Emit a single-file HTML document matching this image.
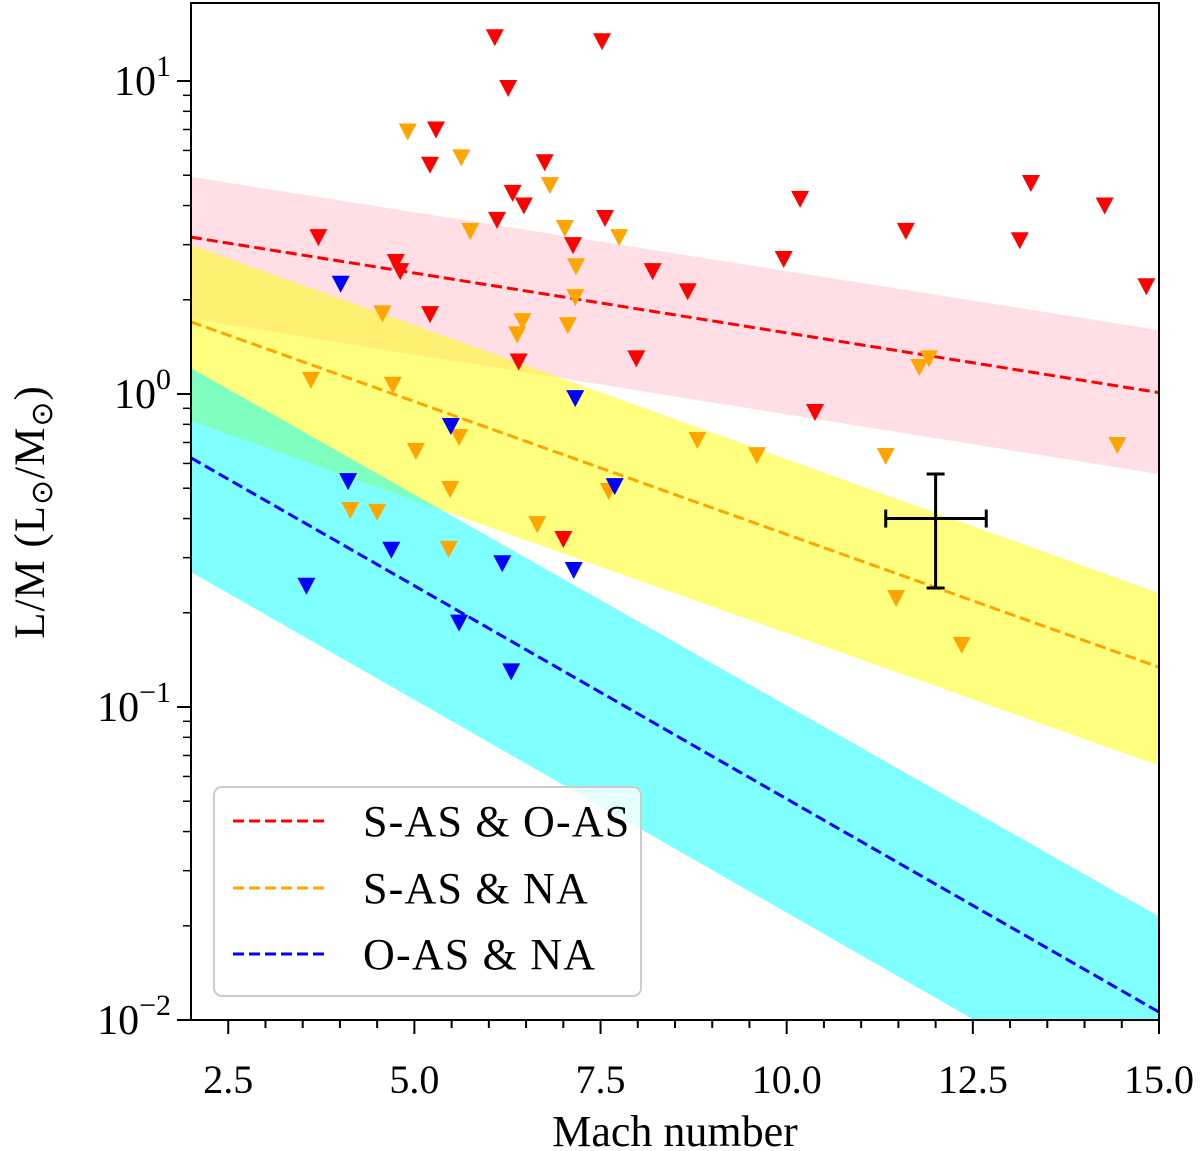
<!DOCTYPE html>
<html><head><meta charset="utf-8"><style>
html,body{margin:0;padding:0;background:#fff}
svg{display:block;font-family:"Liberation Serif",serif}
</style></head><body>
<svg id="chart" width="1200" height="1151" xmlns="http://www.w3.org/2000/svg"></svg>
<script>
const xTicks=[2.5,5.0,7.5,10.0,12.5,15.0];
const xTickLabels=["2.5","5.0","7.5","10.0","12.5","15.0"];
const yDecades=[-2,-1,0,1];
const redX=[6.08,7.52,6.26,5.29,5.21,6.75,3.71,4.75,4.81,6.32,6.11,6.47,7.56,7.13,8.20,8.67,5.21,6.40,7.98,9.96,10.18,11.60,13.13,13.28,14.27,14.83,10.38,7.0];
const redY=[13.8,13.4,9.5,7.0,5.4,5.5,3.17,2.64,2.47,4.39,3.6,4.0,3.65,2.99,2.47,2.13,1.80,1.27,1.30,2.70,4.2,3.32,3.10,4.72,4.0,2.21,0.876,0.344];
const orangeX=[4.91,5.63,6.82,5.75,7.02,7.75,7.17,7.16,4.57,6.45,6.38,7.06,3.61,4.71,11.91,11.78,5.02,5.60,5.48,4.50,4.14,5.46,6.65,7.61,8.80,9.60,11.33,14.44,11.47,12.35];
const orangeY=[6.9,5.7,4.65,3.32,3.39,3.17,2.56,2.04,1.81,1.71,1.55,1.66,1.11,1.07,1.30,1.22,0.658,0.729,0.497,0.42,0.426,0.32,0.384,0.49,0.713,0.638,0.634,0.687,0.223,0.158];
const blueX=[4.01,7.16,5.49,4.11,7.69,4.69,6.18,7.14,3.55,5.60,6.30];
const blueY=[2.25,0.97,0.79,0.527,0.508,0.318,0.288,0.274,0.244,0.186,0.130];
const redLine=[2,3.17,15,1.01];
const orangeLine=[2,1.70,15,0.134];
const blueLine=[2,0.625,15,0.0106];
const redBand=[4.94,1.6,1.74,0.555];
const orangeBand=[2.99,0.231,0.82,0.065];
const blueBand=[1.21,0.0214,0.27,0.0046];
const errPoint=[12.0,0.40];
const errX=[11.33,12.68];
const errY=[0.24,0.555];

const L=191,R=1159,T=3,B=1020;
const xs=v=>L+(v-2)/13*(R-L);
const ys=v=>394-Math.log10(v)*313;
const svg=document.getElementById('chart');
const NS='http://www.w3.org/2000/svg';
function mk(tag,attrs,parent){const e=document.createElementNS(NS,tag);for(const k in attrs)e.setAttribute(k,attrs[k]);(parent||svg).appendChild(e);return e;}
const defs=mk('defs',{});
const cp=mk('clipPath',{id:'clip'},defs);mk('rect',{x:L,y:T,width:R-L,height:B-T},cp);
const g=mk('g',{'clip-path':'url(#clip)'});


function band(b,color,name){
  const p=mk('polygon',{points:`${xs(2)},${ys(b[0])} ${xs(15)},${ys(b[1])} ${xs(15)},${ys(b[3])} ${xs(2)},${ys(b[2])}`,fill:color,'fill-opacity':0.5},g);
  
  
}
band(redBand,'#ffc0cb','band-s-as-o-as');
band(orangeBand,'#ffff00','band-s-as-na');
band(blueBand,'#00ffff','band-o-as-na');
function line(l,color,name){
  const e=mk('line',{x1:xs(l[0]),y1:ys(l[1]),x2:xs(l[2]),y2:ys(l[3]),stroke:color,'stroke-width':3,'stroke-dasharray':'11,5'},g);
  
  
}
line(redLine,'#ff0000','fit-line-s-as-o-as');
line(orangeLine,'#ffa500','fit-line-s-as-na');
line(blueLine,'#0000ff','fit-line-o-as-na');
function pts(X,Y,color,name){
  for(let i=0;i<X.length;i++){const cx=xs(X[i]),cy=ys(Y[i]);
    const p=mk('polygon',{points:`${cx-9},${cy-8} ${cx+9},${cy-8} ${cx},${cy+9}`,fill:color},g);
    
    }
}
pts(redX,redY,'#ff0000','upper-limit-red');
pts(orangeX,orangeY,'#ffa500','upper-limit-orange');
pts(blueX,blueY,'#0000ff','upper-limit-blue');
const eg=mk('g',{stroke:'#000','stroke-width':3},g);


mk('line',{x1:xs(errX[0]),x2:xs(errX[1]),y1:ys(errPoint[1]),y2:ys(errPoint[1])},eg);
mk('line',{x1:xs(errPoint[0]),x2:xs(errPoint[0]),y1:ys(errY[0]),y2:ys(errY[1])},eg);
mk('line',{x1:xs(errX[0]),x2:xs(errX[0]),y1:ys(errPoint[1])-9,y2:ys(errPoint[1])+9},eg);
mk('line',{x1:xs(errX[1]),x2:xs(errX[1]),y1:ys(errPoint[1])-9,y2:ys(errPoint[1])+9},eg);
mk('line',{x1:xs(errPoint[0])-9,x2:xs(errPoint[0])+9,y1:ys(errY[0]),y2:ys(errY[0])},eg);
mk('line',{x1:xs(errPoint[0])-9,x2:xs(errPoint[0])+9,y1:ys(errY[1]),y2:ys(errY[1])},eg);
const fr=mk('rect',{x:L,y:T,width:R-L,height:B-T,fill:'none',stroke:'#000','stroke-width':2});


for(let v=2.5;v<=15.001;v+=0.5){const x=xs(v);const major=Math.abs(v/2.5-Math.round(v/2.5))<1e-6;
  mk('line',{x1:x,x2:x,y1:B,y2:B+(major?14:8),stroke:'#000','stroke-width':2});}
xTicks.forEach((v,i)=>{const t=mk('text',{x:xs(v),y:1093,'text-anchor':'middle','font-size':40});t.textContent=xTickLabels[i];
  
  });
yDecades.forEach(d=>{const y=ys(Math.pow(10,d));mk('line',{x1:L-14,x2:L,y1:y,y2:y,stroke:'#000','stroke-width':2});
  const t=mk('text',{x:L-20,y:y+14,'text-anchor':'end','font-size':42});t.textContent='10';
  const s=mk('tspan',{dy:-19,'font-size':30},t);s.textContent=String(d).replace('-','\u2212');
  
  
  for(let m=2;m<=9;m++){const yy=ys(m*Math.pow(10,d));if(yy<T)continue;mk('line',{x1:L-8,x2:L,y1:yy,y2:yy,stroke:'#000','stroke-width':1.5});}
});
const xl=mk('text',{x:675,y:1146,'text-anchor':'middle','font-size':44});xl.textContent='Mach number';


const yl=mk('text',{x:0,y:0,'text-anchor':'middle','font-size':43,'letter-spacing':1,transform:'translate(44,512) rotate(-90)'});


yl.appendChild(document.createTextNode('L/M (L'));
const s1=mk('tspan',{'font-size':30,dy:8},yl);s1.textContent='\u2299';
const m1=mk('tspan',{dy:-8},yl);m1.textContent='/M';
const s2=mk('tspan',{'font-size':30,dy:8},yl);s2.textContent='\u2299';
const m2=mk('tspan',{dy:-8},yl);m2.textContent=')';
const lg=mk('g',{});


mk('rect',{x:214,y:787,width:427,height:209,rx:8,fill:'#fff','fill-opacity':0.8,stroke:'#ccc','stroke-width':2},lg);
const legColors=['#ff0000','#ffa500','#0000ff'];
const legLabels=['S-AS & O-AS','S-AS & NA','O-AS & NA'];
const legY=[821,888,954];
legLabels.forEach((lab,i)=>{
  const e=mk('g',{},lg);
  
  
  mk('line',{x1:233,x2:327,y1:legY[i],y2:legY[i],stroke:legColors[i],'stroke-width':3,'stroke-dasharray':'11,5'},e);
  const t=mk('text',{x:363,y:legY[i]+15,'font-size':44,'letter-spacing':1.2},e);t.textContent=lab;
});
</script>
</body></html>
